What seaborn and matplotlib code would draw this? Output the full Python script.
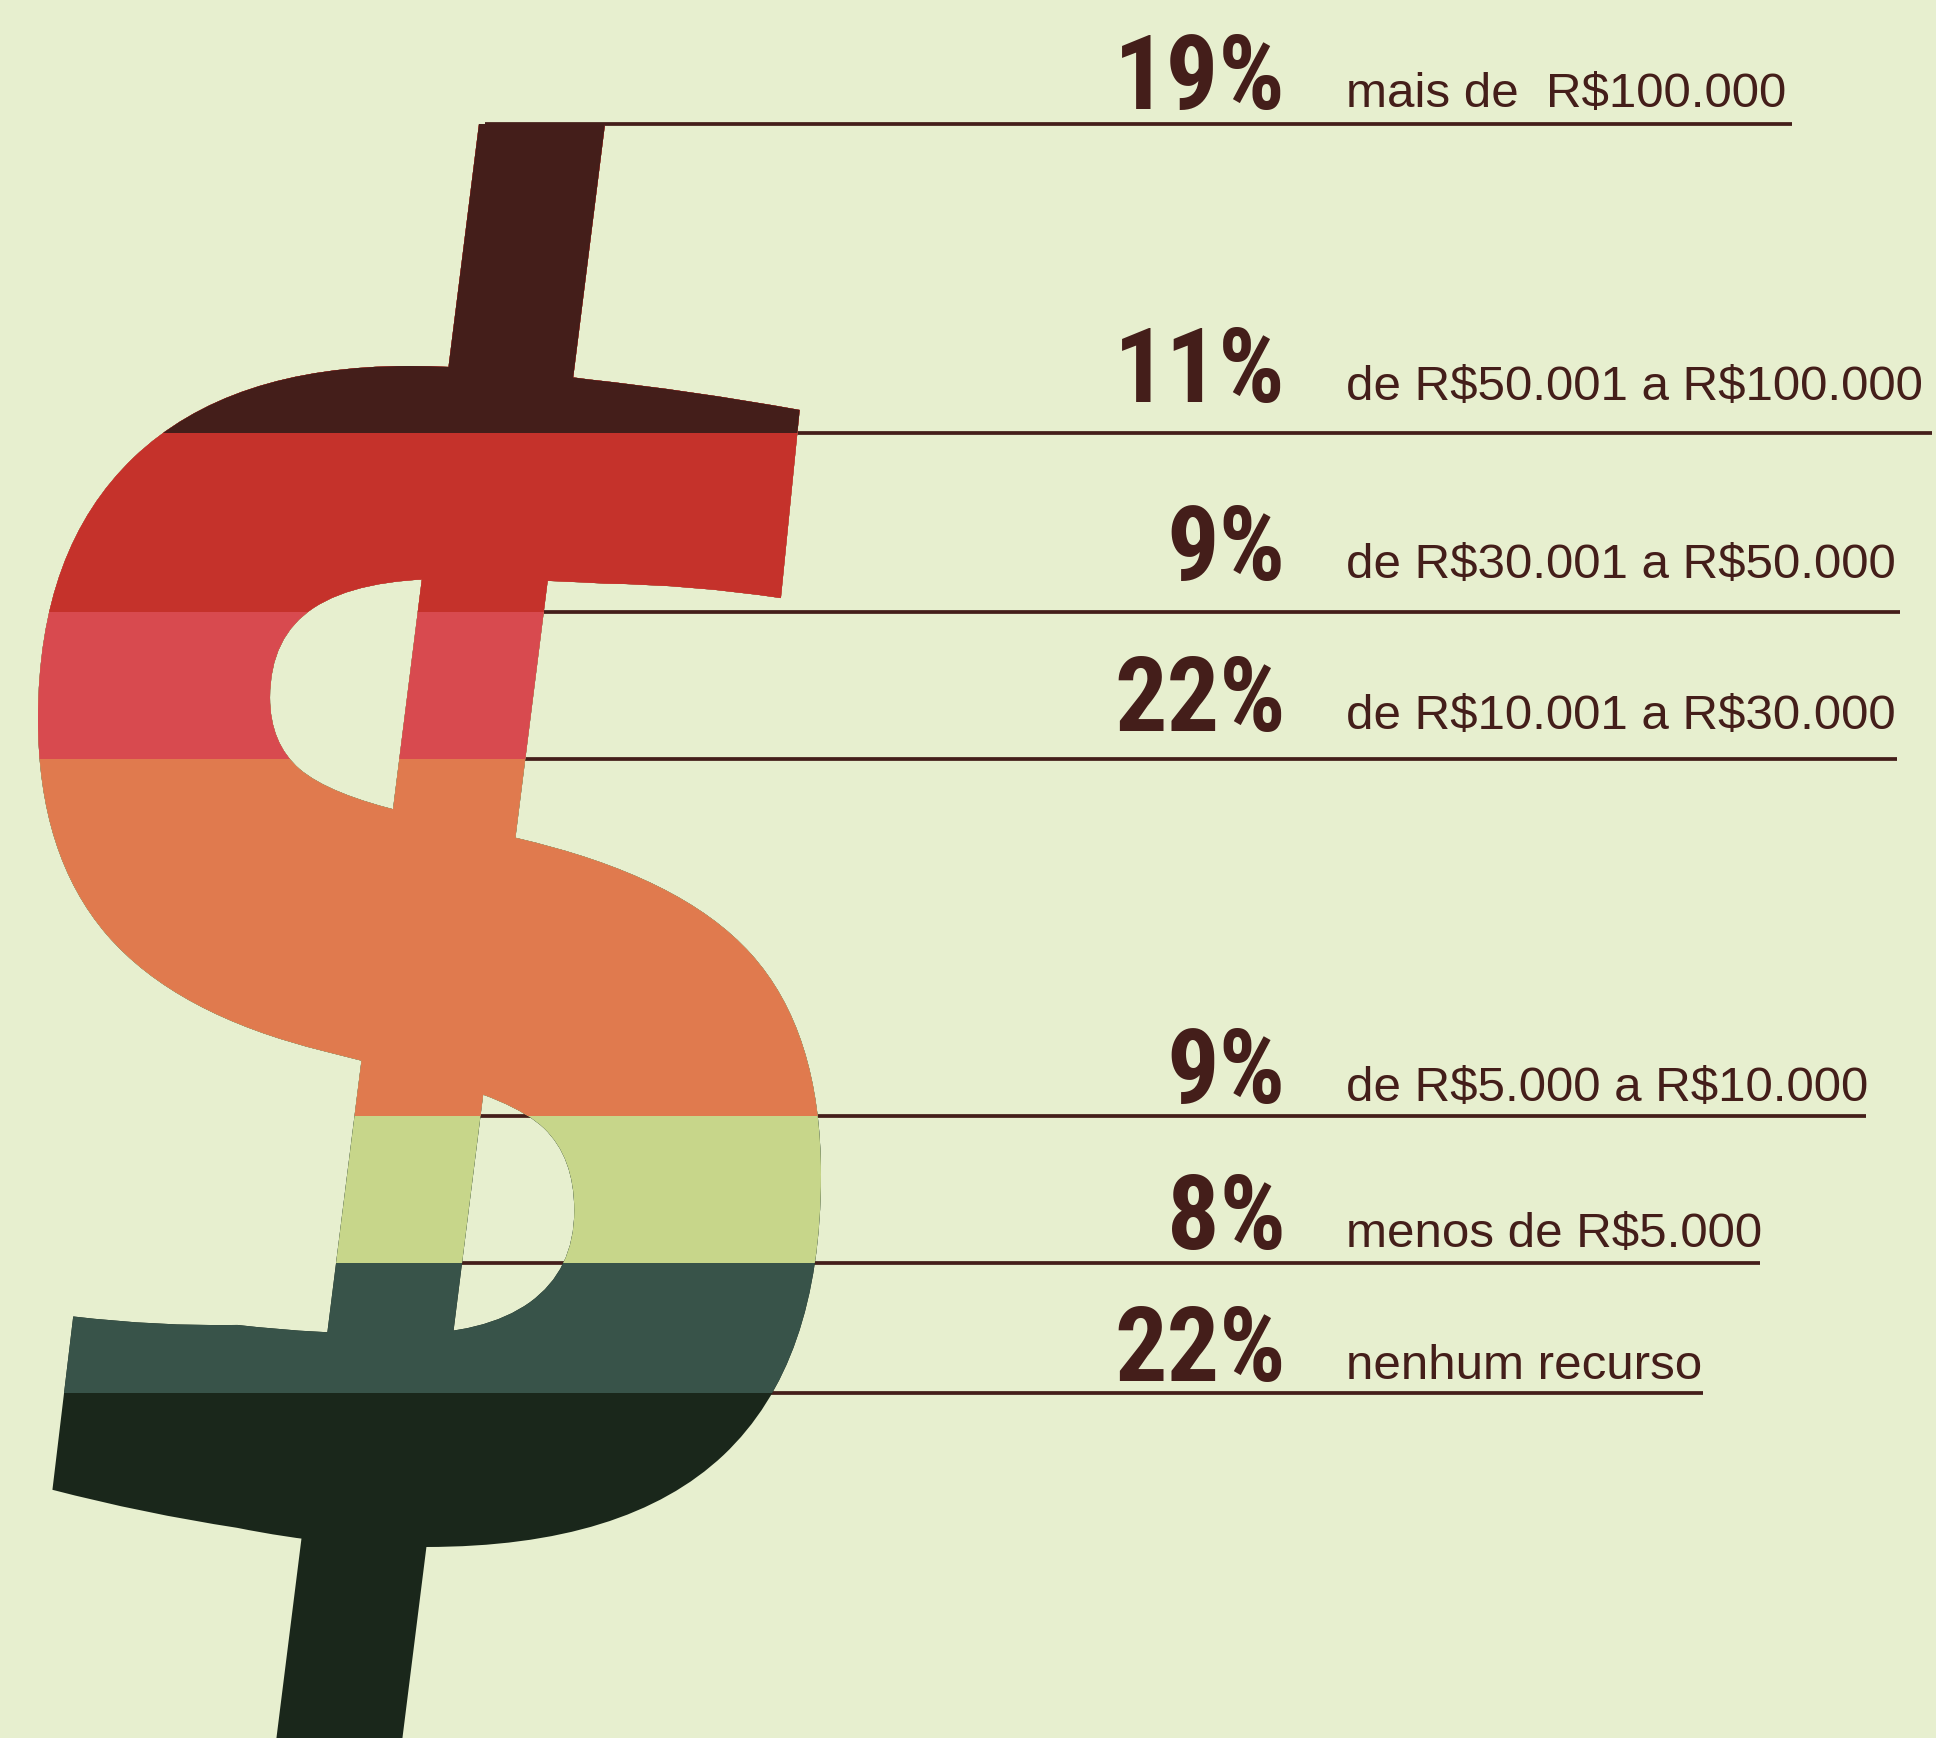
import numpy as np
import pandas as pd
import matplotlib
matplotlib.use("Agg")
import matplotlib.pyplot as plt
import seaborn as sns
from matplotlib.path import Path
from matplotlib.textpath import TextPath
from matplotlib.font_manager import FontProperties, findfont
from matplotlib.transforms import Affine2D, blended_transform_factory
from matplotlib.patches import Rectangle

# ---------------- data ----------------
faixas = ["mais de  R$100.000", "de R$50.001 a R$100.000", "de R$30.001 a R$50.000",
          "de R$10.001 a R$30.000", "de R$5.000 a R$10.000", "menos de R$5.000",
          "nenhum recurso"]
percentuais = [19, 11, 9, 22, 9, 8, 22]
rotulos = [f"{p}%" for p in percentuais]
cores = ["#441e1a", "#c5322b", "#d84a4f", "#e07a4e", "#c7d68a", "#385349", "#1a271b"]

# ---------------- layout ----------------
BG = "#e7efcf"
INK = "#441e1a"
W, H = 1936, 1738
TOP_PX = 124          # pixel row of the 0 % boundary (top of the "$")
PX_PER_PCT = 16.27    # pixels per percentage point
text_base = [109, 402, 580, 731, 1103, 1249, 1381]   # baselines of the big numbers
line_end = [1792, 1932, 1900, 1897, 1866, 1760, 1703]
PCT_RIGHT = 1286
LAB_LEFT = 1346

# "$" geometry (pixels, y downward)
STROKE_L, STROKE_R, SLANT = 479, 605, 0.1255
S_X0, S_X1, S_Y0, S_Y1 = 38, 821, 366, 1547

sns.set_theme(style="white")
plt.rcParams["figure.facecolor"] = BG


def pick(cands, weight="normal"):
    for fam in cands:
        try:
            findfont(FontProperties(family=fam, weight=weight), fallback_to_default=False)
            return fam
        except Exception:
            continue
    return "DejaVu Sans"


pct_font = pick(["Roboto Condensed", "Liberation Sans Narrow", "DejaVu Sans Condensed",
                 "Liberation Sans"], "bold")
lab_font = pick(["Liberation Sans", "Roboto", "DejaVu Sans"])
s_font = "DejaVu Sans"

df = pd.DataFrame({"faixa": faixas, "pct": percentuais})
df["base"] = df["pct"].cumsum()
df["topo"] = df["base"] - df["pct"]
df["grupo"] = "total"

fig = plt.figure(figsize=(W / 100, H / 100), dpi=100)
ax = fig.add_axes([0, 0, 1, 1])
ax.set_facecolor(BG)

# stacked bands: cumulative bars drawn largest first
sns.barplot(data=df, x="grupo", y="base", hue="faixa", hue_order=faixas[::-1],
            palette=dict(zip(faixas, cores)), dodge=False, width=1.0, saturation=1,
            errorbar=None, legend=False, linewidth=0, ax=ax)

# pixel transform (x right, y down from top of image)
pix = Affine2D().scale(1, -1).translate(0, H)

# clip shapes for the dollar sign
ybot = 1800
stroke_path = Path([(STROKE_L, TOP_PX), (STROKE_R, TOP_PX),
                    (STROKE_R - SLANT * (ybot - TOP_PX), ybot),
                    (STROKE_L - SLANT * (ybot - TOP_PX), ybot),
                    (STROKE_L, TOP_PX)],
                   [Path.MOVETO, Path.LINETO, Path.LINETO, Path.LINETO, Path.CLOSEPOLY])

tp = TextPath((0, 0), "S", size=100, prop=FontProperties(family=s_font, weight="bold"))
ext = tp.get_extents()
v = tp.vertices.copy()
X = S_X0 + (v[:, 0] - ext.x0) / ext.width * (S_X1 - S_X0)
Y = S_Y1 - (v[:, 1] - ext.y0) / ext.height * (S_Y1 - S_Y0)
# reshape the terminals: flatter, slightly slanted arms as in the original glyph
t1 = np.clip((X - 520) / (756 - 520), 0, 1) * (Y < 760)
Yn = S_Y0 + (Y - S_Y0) * (1 - 0.22 * t1)
Xn = X + t1 * (35 + 0.1 * (500 - Yn))
t2 = np.clip((300 - X) / (300 - 47), 0, 1) * (Yn > 1100)
Yn = S_Y1 - (S_Y1 - Yn) * (1 - 0.30 * t2)
Xn = Xn + t2 * (16 + 0.12 * (1404 - Yn))
s_path = Path(np.column_stack([Xn, Yn]), tp.codes)

bars = list(ax.patches)
for p in bars:
    p.set_linewidth(0)
    p.set_zorder(2 + (100 - p.get_height()) / 100)
    p.set_clip_path(s_path, pix)
    twin = Rectangle(p.get_xy(), p.get_width(), p.get_height(),
                     facecolor=p.get_facecolor(), linewidth=0, zorder=p.get_zorder())
    ax.add_patch(twin)
    twin.set_clip_path(stroke_path, pix)

# leader lines at the top of each band
ydown = TOP_PX + PX_PER_PCT * df["topo"].to_numpy()
xstart = STROKE_L - SLANT * (ydown - TOP_PX) + 6
ax.hlines(df["topo"], xstart, line_end, colors=INK, linewidth=2.7, zorder=1,
          transform=blended_transform_factory(pix, ax.transData))

# texts
for yb, r, f in zip(text_base, rotulos, faixas):
    ax.text(PCT_RIGHT, yb, r, transform=pix, ha="right", va="baseline",
            fontsize=75, fontweight="bold", family=pct_font, color=INK, parse_math=False)
    ax.text(LAB_LEFT, yb - 2, f, transform=pix, ha="left", va="baseline",
            fontsize=35.5, family=lab_font, color=INK, parse_math=False)

ax.set_xlim(-0.5, -0.5 + W / 968)
ax.set_ylim((H - TOP_PX) / PX_PER_PCT, -TOP_PX / PX_PER_PCT)
ax.axis("off")

fig.savefig("out.png", dpi=100, facecolor=BG)
